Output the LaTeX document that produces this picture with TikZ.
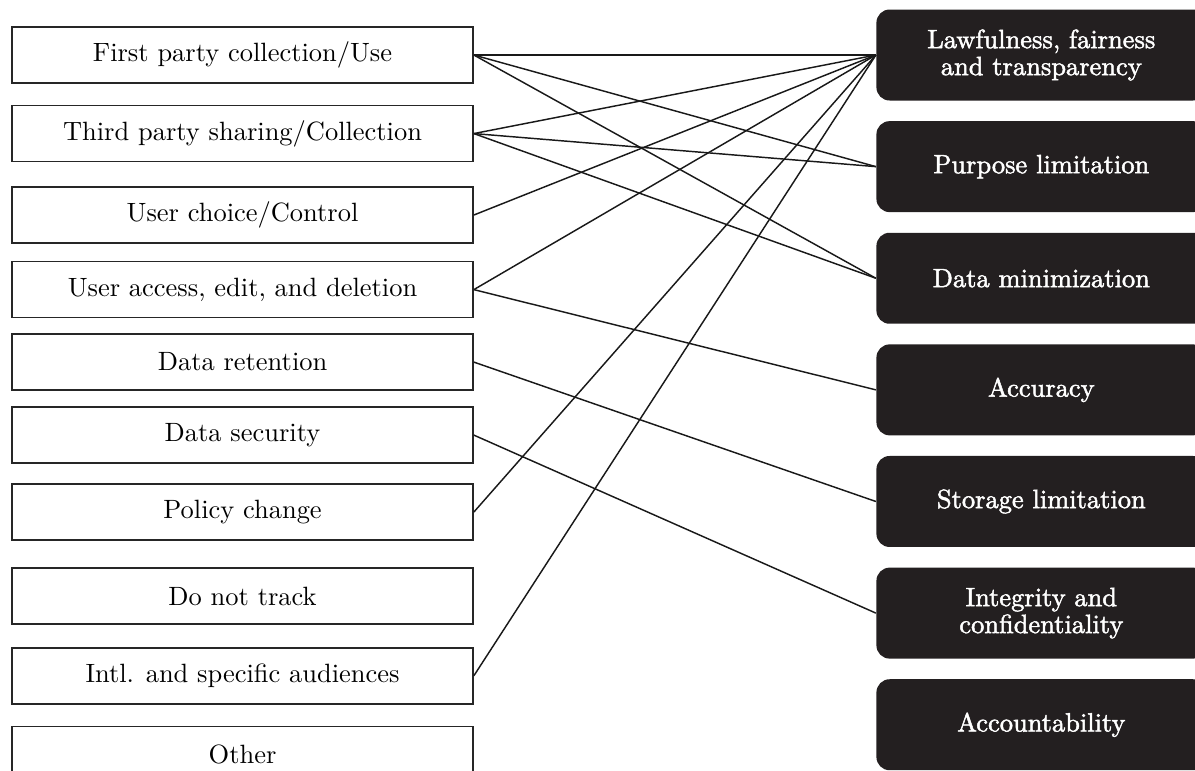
\documentclass[tikz,border=0pt]{standalone}
\usepackage{fontspec}
\newfontfamily\heavyrm{lmroman10-regular.otf}[FakeBold=1.8]
\usetikzlibrary{positioning}
\definecolor{inkbox}{HTML}{231F20}

\begin{document}
\begin{tikzpicture}[node distance=7.4pt and 152pt,
  practice/.style={draw=black!85,line width=0.6pt,minimum width=174.3pt,minimum height=21.2pt,inner sep=0pt},
  principle/.style={fill=inkbox,rounded corners=5pt,text=white,minimum width=124.7pt,minimum height=34.4pt,inner sep=0pt,align=center,font=\heavyrm\fontsize{10}{10.2}\selectfont},
  link/.style={draw=black!90,line width=0.55pt}]
\useasboundingbox (-91.7pt,20.8pt) rectangle (360.1pt,-270.6pt);
\clip (-91.7pt,20.8pt) rectangle (360.1pt,-270.6pt);
% practice categories
\node[practice] (p0) {First party collection/Use};
\node[practice,below=7.9pt of p0] (p1) {Third party sharing/Collection};
\node[practice,below=9pt of p1] (p2) {User choice/Control};
\node[practice,below=6.4pt of p2] (p3) {User access, edit, and deletion};
\node[practice,below=5.6pt of p3] (p4) {Data retention};
\node[practice,below=5.8pt of p4] (p5) {Data security};
\node[practice,below=7.3pt of p5] (p6) {Policy change};
\node[practice,below=10pt of p6] (p7) {Do not track};
\node[practice,below=8.3pt of p7] (p8) {Intl. and specific audiences};
\node[practice,below=7.9pt of p8] (p9) {Other};
% principles
\node[principle,right=of p0] (g0) {Lawfulness, fairness\\and transparency};
\node[principle,below=of g0] (g1) {Purpose limitation};
\node[principle,below=of g1] (g2) {Data minimization};
\node[principle,below=of g2] (g3) {Accuracy};
\node[principle,below=of g3] (g4) {Storage limitation};
\node[principle,below=of g4] (g5) {Integrity and\\confidentiality};
\node[principle,below=of g5] (g6) {Accountability};
% links
\draw[link] (p0.east) -- (g0.west);
\draw[link] (p0.east) -- (g1.west);
\draw[link] (p0.east) -- (g2.west);
\draw[link] (p1.east) -- (g0.west);
\draw[link] (p1.east) -- (g1.west);
\draw[link] (p1.east) -- (g2.west);
\draw[link] (p2.east) -- (g0.west);
\draw[link] (p3.east) -- (g0.west);
\draw[link] (p3.east) -- (g3.west);
\draw[link] (p4.east) -- (g4.west);
\draw[link] (p5.east) -- (g5.west);
\draw[link] (p6.east) -- (g0.west);
\draw[link] (p8.east) -- (g0.west);
\end{tikzpicture}
\end{document}
